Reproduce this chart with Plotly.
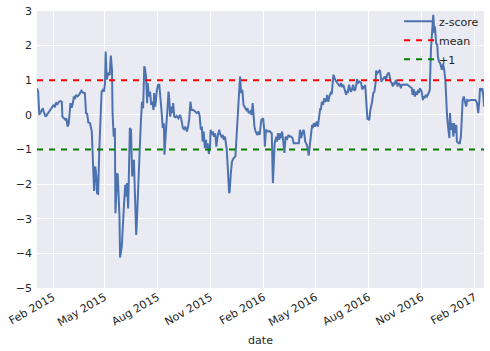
import pandas as pd
import plotly.graph_objects as go

# Day offsets from 2015-01-01 and z-score values
days = [3,5,7,9,11,13,15,18,21,23,26,29,32,34,36,38,41,44,46,47,50,52,54,56,58,60,61,63,65,67,69,70,73,76,79,80,83,86,88,90,92,95,98,100,102,104,106,107,109,111,113,115,117,119,121,122,124,126,129,131,133,134,136,138,139,142,143,146,147,150,152,154,156,158,159,161,162,164,166,168,169,171,173,175,176,178,180,182,183,185,187,189,190,192,194,195,197,199,201,203,205,206,208,211,213,215,217,219,221,223,224,226,227,229,231,232,234,236,238,239,241,243,245,248,251,253,256,258,260,263,265,267,269,271,274,277,280,283,285,287,289,290,292,294,296,297,299,301,303,304,306,308,310,312,314,316,319,320,323,325,327,329,330,332,334,336,337,339,341,344,347,349,351,354,355,357,359,361,363,366,368,370,373,375,377,378,380,382,385,387,389,392,395,397,398,400,403,406,409,410,412,414,415,418,419,421,423,425,426,428,430,432,434,436,439,441,443,446,448,450,452,455,457,459,461,463,465,466,468,471,473,474,476,478,480,481,483,485,487,488,490,492,494,495,497,499,501,503,505,506,508,510,512,514,515,517,520,522,524,527,528,530,532,534,536,539,540,542,544,546,547,549,551,553,555,557,558,560,562,565,567,568,570,572,573,575,576,577,579,581,583,584,586,588,590,591,593,595,597,598,600,602,604,606,608,610,613,614,616,618,620,621,623,625,627,628,630,632,634,635,637,639,642,645,647,650,653,654,656,658,660,662,664,665,667,670,672,673,675,677,679,682,684,686,688,690,692,693,695,697,698,700,702,704,705,707,709,711,712,714,716,718,719,721,723,725,726,728,730,731,734,736,738,739,741,743,745,747,749,752,755,757,760,763,766,768,770,771,773,775,777,778]
zscore = [0.77,0.67,0.0,0.06,0.10,0.19,0.07,-0.05,0.02,0.07,0.12,0.19,0.29,0.22,0.36,0.29,0.38,0.40,0.38,-0.05,-0.10,-0.14,-0.10,-0.34,-0.26,0.05,0.34,0.21,0.32,0.53,0.46,0.57,0.53,0.58,0.66,0.70,0.64,0.63,0.05,0.03,-0.22,-0.24,-0.48,-1.20,-2.20,-1.49,-1.78,-2.26,-2.28,-1.01,-0.05,0.67,0.72,0.67,0.92,1.83,1.02,1.21,1.15,1.71,1.30,0.05,-0.63,-0.38,-2.84,-1.69,-1.73,-2.94,-4.12,-3.80,-3.03,-2.55,-2.02,-2.36,-1.97,-2.70,-1.97,-0.38,-0.43,-1.78,-1.59,-1.30,-2.17,-3.47,-3.13,-2.17,-1.01,-0.63,-0.24,0.38,0.19,1.40,1.35,1.11,0.34,0.92,0.53,0.67,0.29,0.38,0.14,0.63,0.24,0.72,0.87,0.87,0.53,0.10,-0.38,-0.24,-1.15,-0.43,-0.34,0.10,0.67,0.53,-0.05,0.24,0.05,0.34,-0.05,-0.07,-0.03,-0.10,0.00,-0.12,-0.38,-0.41,-0.34,-0.48,-0.34,-0.10,0.38,0.14,0.14,0.10,0.05,0.10,-0.03,-0.43,-0.34,-0.77,-0.48,-0.96,-0.72,-0.96,-0.82,-1.13,-0.92,-0.43,-0.58,-0.48,-0.63,-0.53,-0.92,-0.63,-0.43,-0.53,-0.63,-0.58,-0.72,-0.63,-0.77,-1.01,-1.59,-2.26,-2.22,-1.69,-1.35,-1.25,-1.20,-0.63,0.05,0.72,1.11,0.63,0.72,0.29,0.24,0.14,0.19,0.05,0.10,0.00,0.34,0.14,-0.34,-0.48,-0.58,-0.48,-0.58,-0.14,-0.10,-0.43,-0.92,-0.43,-0.48,-0.47,-0.51,-0.53,-1.97,-0.92,-0.82,-0.63,-0.77,-0.53,-0.72,-0.53,-0.67,-0.48,-0.77,-1.10,-0.63,-0.72,-0.58,-0.63,-0.62,-0.67,-0.82,-0.82,-0.82,-0.82,-0.82,-0.43,-0.67,-0.53,-0.43,-0.48,-0.77,-0.87,-1.01,-1.18,-0.82,-0.53,-0.29,-0.38,-0.24,-0.34,-0.24,-0.19,-0.34,-0.14,0.19,0.14,0.38,0.29,0.48,0.38,0.43,0.58,0.38,0.53,0.63,0.60,0.82,1.16,1.01,0.96,0.94,0.87,0.82,0.92,0.80,0.87,0.77,0.58,0.67,0.66,0.87,0.72,0.67,0.72,0.87,0.70,0.73,0.92,1.03,0.93,0.96,0.92,0.73,0.82,0.77,0.87,0.63,-0.05,-0.14,-0.07,-0.16,0.14,0.29,0.38,0.63,0.67,0.92,1.28,1.20,1.26,1.28,1.26,0.96,1.01,1.06,1.11,1.01,1.16,1.22,1.16,0.96,0.92,0.82,0.93,0.87,1.01,0.93,0.82,0.92,0.87,0.77,0.87,0.87,0.88,0.88,0.87,0.84,0.80,0.77,0.58,0.74,0.53,0.67,0.58,0.72,0.63,0.77,0.67,0.43,0.53,0.48,0.58,0.53,0.63,0.72,1.88,2.46,2.89,2.36,2.55,2.07,2.02,1.69,1.54,1.49,1.40,1.30,1.47,1.30,1.01,0.53,-0.05,-0.38,-0.67,0.05,-0.43,-0.24,-0.63,-0.24,-0.53,-0.29,-0.77,-0.82,-0.82,-0.63,-0.24,0.43,0.53,0.34,0.24,0.43,0.41,0.43,0.43,0.42,0.43,0.34,0.05,0.43,0.77,0.72,0.77,0.53,0.24]

mean_level = 1.0
plus1_level = -1.0
base_date = "2015-01-01"

dates = pd.Timestamp(base_date) + pd.to_timedelta(days, unit="D")
x_ends = [dates[0], dates[-1]]

font = dict(family="DejaVu Sans", size=11, color="#262626")

fig = go.Figure()
fig.add_trace(go.Scatter(x=dates, y=zscore, mode="lines", name="z-score",
                         line=dict(color="#4C72B0", width=2)))
fig.add_trace(go.Scatter(x=x_ends, y=[mean_level, mean_level], mode="lines", name="mean",
                         line=dict(color="#FF0000", width=2, dash="6px,6px")))
fig.add_trace(go.Scatter(x=x_ends, y=[plus1_level, plus1_level], mode="lines", name="+1",
                         line=dict(color="#008000", width=2, dash="6px,6px")))

fig.update_layout(
    width=490, height=351,
    margin=dict(l=37, r=6, t=11, b=63),
    paper_bgcolor="white",
    plot_bgcolor="#EAEAF2",
    font=font,
    showlegend=True,
    legend=dict(x=0.81, y=1.015, xanchor="left", yanchor="top",
                bgcolor="rgba(0,0,0,0)", font=dict(family="DejaVu Sans", size=11, color="#262626")),
    xaxis=dict(
        range=x_ends,
        tickformat="%b %Y", dtick="M3", tick0="2015-02-01",
        tickangle=-30,
        showgrid=True, gridcolor="white", gridwidth=1,
        zeroline=False, showline=False, ticks="",
        title=dict(text="date", font=font, standoff=8),
    ),
    yaxis=dict(
        range=[-5, 3], dtick=1,
        showgrid=True, gridcolor="white", gridwidth=1,
        zeroline=False, showline=False, ticks="",
        ticklabelstandoff=4,
    ),
)

fig.write_html("out.html")
